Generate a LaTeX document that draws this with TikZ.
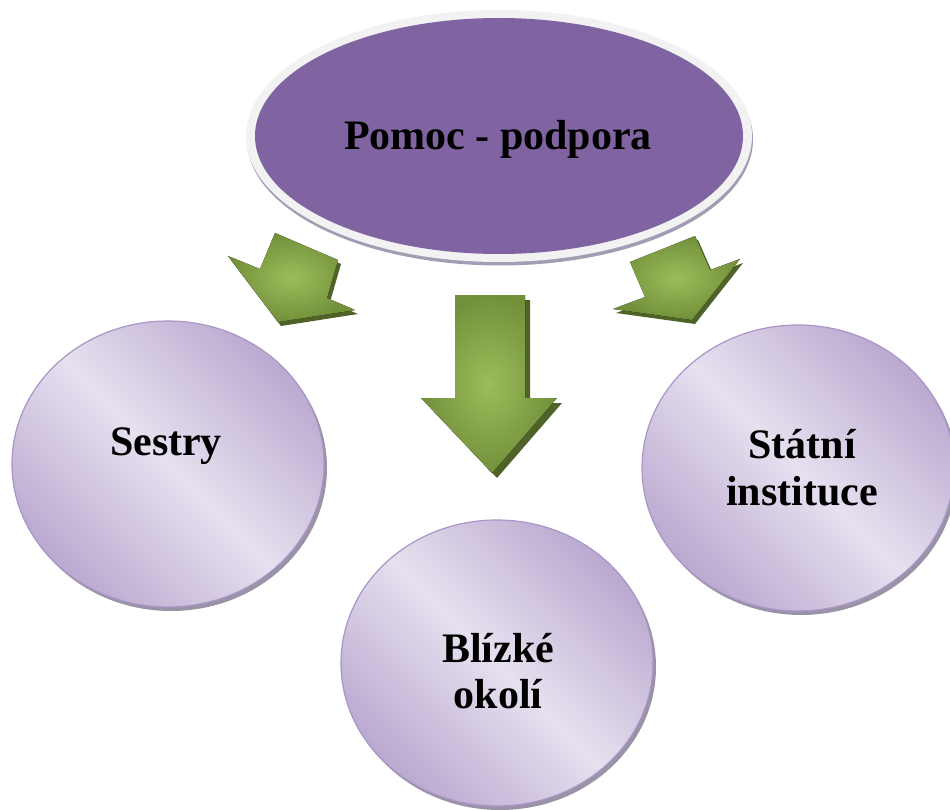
\documentclass[tikz,border=0pt]{standalone}
\usepackage{fontspec}
\setmainfont{Liberation Serif}
\usetikzlibrary{shapes.geometric}

\definecolor{hubPurple}{HTML}{8064A2}
\definecolor{hubRim}{HTML}{F2F2F2}
\definecolor{hubShadow}{HTML}{A29DB3}
\definecolor{circLight}{HTML}{E6E0EF}
\definecolor{circDark}{HTML}{BBA9D0}
\definecolor{circEdge}{HTML}{A896C6}
\definecolor{circShadow}{HTML}{9A93A8}
\definecolor{arrowLight}{HTML}{9CBD5B}
\definecolor{arrowDark}{HTML}{72903A}
\definecolor{arrowSide}{HTML}{4F6228}

\tikzset{
  bubble/.style={ellipse, draw=circEdge, line width=1.2pt,
    shading=axis, top color=circDark, bottom color=circDark,
    middle color=circLight, shading angle=-45,
    minimum width=312pt, minimum height=286pt, inner sep=0pt},
  bubbleshadow/.style={ellipse, fill=circShadow, draw=none,
    minimum width=312pt, minimum height=286pt, inner sep=0pt},
  lbl/.style={font=\fontsize{42}{48}\selectfont\bfseries, text=black,
    inner sep=0pt, anchor=base},
  arrowbody/.style={shading=radial, inner color=arrowLight, outer color=arrowDark},
  arrowedge/.style={fill=arrowSide}
}

\begin{document}
\begin{tikzpicture}[x=1pt, y=-1pt]
  \useasboundingbox (0,0) rectangle (950,810);

  % central hub: shadow, light rim, purple face
  \fill[hubShadow] (500,139.5) ellipse [x radius=253, y radius=126];
  \fill[hubRim] (499,136) ellipse [x radius=253, y radius=126];
  \node[ellipse, fill=hubPurple, minimum width=488pt, minimum height=236pt,
        inner sep=0pt] (hub) at (499,136) {};
  \node[lbl] (hub-text) at (498,150) {Pomoc - podpora};

  % three target circles with drop shadows
  \node[bubbleshadow] (sestry-sh) at (171,468) {};
  \node[bubbleshadow] (statni-sh) at (801,472) {};
  \node[bubbleshadow] (okoli-sh)  at (500,667) {};
  \node[bubble] (sestry) at (168,464) {};
  \node[bubble] (statni) at (798,468) {};
  \node[bubble] (okoli)  at (497,663) {};

  \node[lbl] (sestry-l1) at (166,455) {Sestry};
  \node[lbl] (statni-l1) at (802,458) {Státní};
  \node[lbl] (statni-l2) at (802,505) {instituce};
  \node[lbl] (okoli-l1)  at (498,662) {Blízké};
  \node[lbl] (okoli-l2)  at (498,708) {okolí};

  % left block arrow
  \fill[arrowedge, shift={(3,4)}]
    (275,233) -- (338,260) -- (327,298) -- (355,310) -- (278,322)
    -- (228,256) -- (260,269) -- cycle;
  \fill[arrowbody]
    (275,233) -- (338,260) -- (327,298) -- (355,310) -- (278,322)
    -- (228,256) -- (260,269) -- cycle;

  % middle block arrow
  \fill[arrowedge, shift={(5,5)}]
    (455,295) -- (525,295) -- (525,398) -- (557,398) -- (492,473)
    -- (421,398) -- (455,398) -- cycle;
  \fill[arrowbody]
    (455,295) -- (525,295) -- (525,398) -- (557,398) -- (492,473)
    -- (421,398) -- (455,398) -- cycle;

  % right block arrow
  \fill[arrowedge, shift={(3,4)}]
    (630,262) -- (695,236) -- (710,270) -- (740,259) -- (692,320)
    -- (613,309) -- (645,297) -- cycle;
  \fill[arrowbody]
    (630,262) -- (695,236) -- (710,270) -- (740,259) -- (692,320)
    -- (613,309) -- (645,297) -- cycle;
\end{tikzpicture}
\end{document}
